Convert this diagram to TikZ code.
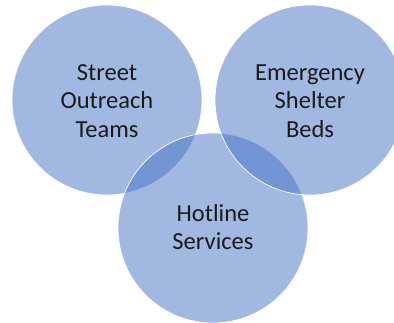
\documentclass[tikz,border=0pt]{standalone}
\usepackage{fontspec}
\setmainfont{Carlito}
\definecolor{vblue}{HTML}{4472C4}
\definecolor{vtext}{HTML}{1A1A1A}
\begin{document}
\begin{tikzpicture}[x=1pt,y=-1pt,
  venn/.style={circle,minimum size=190pt,inner sep=0pt,fill=vblue,fill opacity=0.5,draw=white,draw opacity=1,line width=0.7pt},
  lbl/.style={align=center,text=vtext,text opacity=1,font=\fontsize{24.5}{28.5}\selectfont}]
\useasboundingbox (0,0) rectangle (394,322);
\node[venn] (a) at (107,100) {};
\node[venn] (c) at (213,228) {};
\node[venn] (b) at (310,100) {};
\node[lbl] (ta) at (107,101) {Street\\Outreach\\Teams};
\node[lbl] (tb) at (310,101) {Emergency\\Shelter\\Beds};
\node[lbl] (tc) at (213,227) {Hotline\\Services};
\end{tikzpicture}
\end{document}
